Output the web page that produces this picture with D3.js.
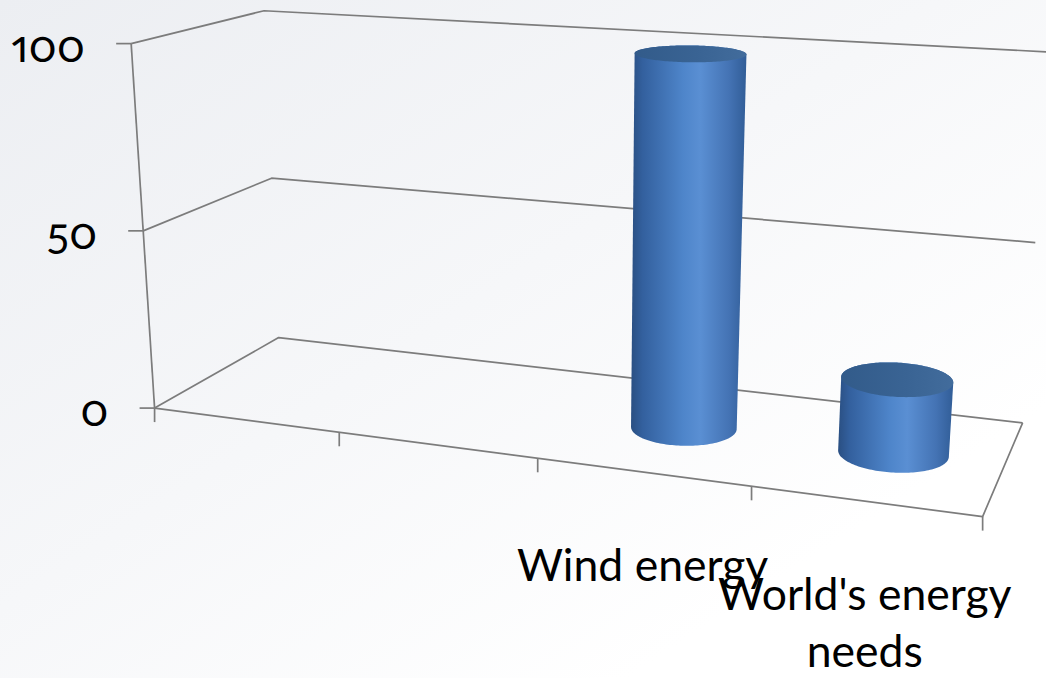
<!DOCTYPE html>
<html>
<head>
<meta charset="utf-8">
<script src="https://cdn.jsdelivr.net/npm/d3@7"></script>
<style>
  html, body { margin: 0; padding: 0; background: #fff; }
  svg { display: block; }
  text { font-family: Lato, "Open Sans", sans-serif; fill: #000; }
</style>
</head>
<body>
<svg id="chart" width="1046" height="678"></svg>
<script>
// ---- data ----
const categories = ["", "", "Wind energy", "World's energy needs"];
const values = [null, null, 100, 20];
const valueTicks = [0, 50, 100];
const valueTickLabels = ["0", "50", "100"];

// ---- page & 3D frame ----
const W = 1046, H = 678;
const svg = d3.select("#chart");

// Plot box as a unit cube: u runs along the categories, v up the value axis,
// w from the front edge of the floor to the back wall. Each pair maps a cube
// point to its place on the page; a perspective camera is fitted to them.
const frameAnchors = [
  [[0, 0, 0], [155, 408]], [[0.25, 0, 0], [338, 432]], [[0.5, 0, 0], [541, 459]],
  [[0.75, 0, 0], [750, 486.5]], [[1, 0, 0], [982, 517]],
  [[0, 0, 1], [278, 337]], [[1, 0, 1], [1023, 423]],
  [[0, 0.5, 0], [143, 231]], [[0, 1, 0], [131, 44]],
  [[0, 0.5, 1], [272, 178]], [[0, 1, 1], [264, 11]],
  [[1, 0.5, 1], [1035, 242]], [[1, 1, 1], [1049, 53]],
  [[1, 1, 0], [1010, 95]]
];

const PX = 1000; // pixel normalisation for a well-conditioned fit
function fitCamera(pairs) {
  const rows = [], rhs = [];
  pairs.forEach(([[X, Y, Z], [x0, y0]]) => {
    const x = x0 / PX, y = y0 / PX;
    rows.push([X, Y, Z, 1, 0, 0, 0, 0, -x * X, -x * Y, -x * Z]); rhs.push(x);
    rows.push([0, 0, 0, 0, X, Y, Z, 1, -y * X, -y * Y, -y * Z]); rhs.push(y);
  });
  const n = 11;
  const M = d3.range(n).map(() => new Array(n + 1).fill(0));
  rows.forEach((r, k) => {
    for (let i = 0; i < n; i++) {
      for (let j = 0; j < n; j++) M[i][j] += r[i] * r[j];
      M[i][n] += r[i] * rhs[k];
    }
  });
  for (let c = 0; c < n; c++) {
    let piv = c;
    for (let r = c + 1; r < n; r++) if (Math.abs(M[r][c]) > Math.abs(M[piv][c])) piv = r;
    [M[c], M[piv]] = [M[piv], M[c]];
    for (let r = 0; r < n; r++) {
      if (r === c) continue;
      const f = M[r][c] / M[c][c];
      for (let k = c; k <= n; k++) M[r][k] -= f * M[c][k];
    }
  }
  return M.map((row, i) => row[n] / row[i]);
}
const cam = fitCamera(frameAnchors);
function project(u, v, w) {
  const d = cam[8] * u + cam[9] * v + cam[10] * w + 1;
  return [PX * (cam[0] * u + cam[1] * v + cam[2] * w + cam[3]) / d,
          PX * (cam[4] * u + cam[5] * v + cam[6] * w + cam[7]) / d];
}

// ---- scales ----
const xBand = d3.scaleBand().domain(d3.range(categories.length)).range([0, 1]);
const yScale = d3.scaleLinear().domain([0, 100]).range([0, 1]);

// ---- background ----
const defs = svg.append("defs");
const bg = defs.append("linearGradient").attr("id", "bg")
  .attr("x1", 0).attr("y1", 0).attr("x2", 1).attr("y2", 1);
bg.append("stop").attr("offset", 0).attr("stop-color", "#eceef2");
bg.append("stop").attr("offset", 0.45).attr("stop-color", "#f6f7f9");
bg.append("stop").attr("offset", 0.8).attr("stop-color", "#ffffff");
svg.append("rect").attr("width", W).attr("height", H).attr("fill", "url(#bg)");

const line = d3.line();
const gridColor = "#7c7c7c";

// ---- walls: gridlines on the side and back walls ----
const walls = svg.append("g").attr("fill", "none").attr("stroke", gridColor)
  .attr("stroke-width", 1.7).attr("stroke-linejoin", "round");
valueTicks.forEach(t => {
  const v = yScale(t);
  walls.append("path").attr("d", line([project(0, v, 0), project(0, v, 1), project(1, v, 1)]));
});

// ---- floor outline ----
walls.append("path").attr("d", line([project(0, 0, 0), project(1, 0, 0), project(1, 0, 1)]));

// ---- value axis ----
const axis = svg.append("g").attr("stroke", gridColor).attr("stroke-width", 1.7);
axis.append("path").attr("fill", "none")
  .attr("d", line([project(0, 0, 0), project(0, yScale(100), 0)]));
const tickLen = 15;
const fontSize = 44.5;
valueTicks.forEach((t, i) => {
  const [x, y] = project(0, yScale(t), 0);
  axis.append("line").attr("x1", x - tickLen).attr("x2", x).attr("y1", y).attr("y2", y);
  svg.append("text")
    .attr("x", x - tickLen - 31).attr("y", y + 18)
    .attr("text-anchor", "end")
    .style("font-size", fontSize + "px")
    .style("font-variant-numeric", "oldstyle-nums proportional-nums")
    .style("font-feature-settings", "'onum' 1, 'pnum' 1")
    .text(valueTickLabels[i]);
});

// ---- category axis ticks ----
const bounds = d3.range(categories.length + 1).map(k => k / categories.length);
bounds.forEach(u => {
  const [x, y] = project(u, 0, 0);
  axis.append("line").attr("x1", x).attr("x2", x).attr("y1", y).attr("y2", y + 14);
});

// ---- category labels (wrapped to fit under their slot) ----
function wrapLines(label, maxWidth, size) {
  const probe = svg.append("text").style("font-size", size + "px");
  const words = label.split(" ");
  const lines = [];
  let cur = "";
  words.forEach(wd => {
    const test = cur ? cur + " " + wd : wd;
    probe.text(test);
    if (probe.node().getComputedTextLength() > maxWidth && cur) { lines.push(cur); cur = wd; }
    else cur = test;
  });
  if (cur) lines.push(cur);
  probe.remove();
  return lines;
}
categories.forEach((c, i) => {
  if (!c) return;
  const uc = xBand(i) + xBand.bandwidth() / 2;
  const [x, y] = project(uc, 0, 0);
  const lines = wrapLines(c, 330, fontSize);
  const t = svg.append("text").attr("text-anchor", "middle").style("font-size", fontSize + "px");
  lines.forEach((ln, k) => {
    t.append("tspan").attr("x", x).attr("y", y + 109 + k * 57).text(ln);
  });
});

// ---- cylinders ----
const bodyGrad = defs.append("linearGradient").attr("id", "cylBody");
[[0, "#2a4f82"], [0.1, "#33609e"], [0.45, "#4e85ca"], [0.6, "#5a8fd3"],
 [0.85, "#4473b4"], [1, "#315d97"]].forEach(([o, c]) =>
  bodyGrad.append("stop").attr("offset", o).attr("stop-color", c));
const topGrad = defs.append("linearGradient").attr("id", "cylTop");
[[0, "#325b8a"], [0.6, "#3a6494"], [1, "#426c9c"]].forEach(([o, c]) =>
  topGrad.append("stop").attr("offset", o).attr("stop-color", c));

const ru = xBand.bandwidth() * 0.25; // radius along the category axis
const rw = 0.2;                       // radius along the depth axis
const wc = 0.5;                       // columns stand mid-depth
const seg = 160;
function ring(uc, v) {
  return d3.range(seg).map(k => {
    const a = 2 * Math.PI * k / seg;
    return project(uc + ru * Math.cos(a), v, wc + rw * Math.sin(a));
  });
}
const bars = svg.append("g");
values.forEach((val, i) => {
  if (val == null) return;
  const uc = xBand(i) + xBand.bandwidth() / 2;
  const base = ring(uc, yScale(0));
  const top = ring(uc, yScale(val));
  const hull = d3.polygonHull(base.concat(top));
  bars.append("path").attr("d", "M" + hull.join("L") + "Z").attr("fill", "url(#cylBody)");
  bars.append("path").attr("d", "M" + top.join("L") + "Z").attr("fill", "url(#cylTop)");
});
</script>
</body>
</html>
